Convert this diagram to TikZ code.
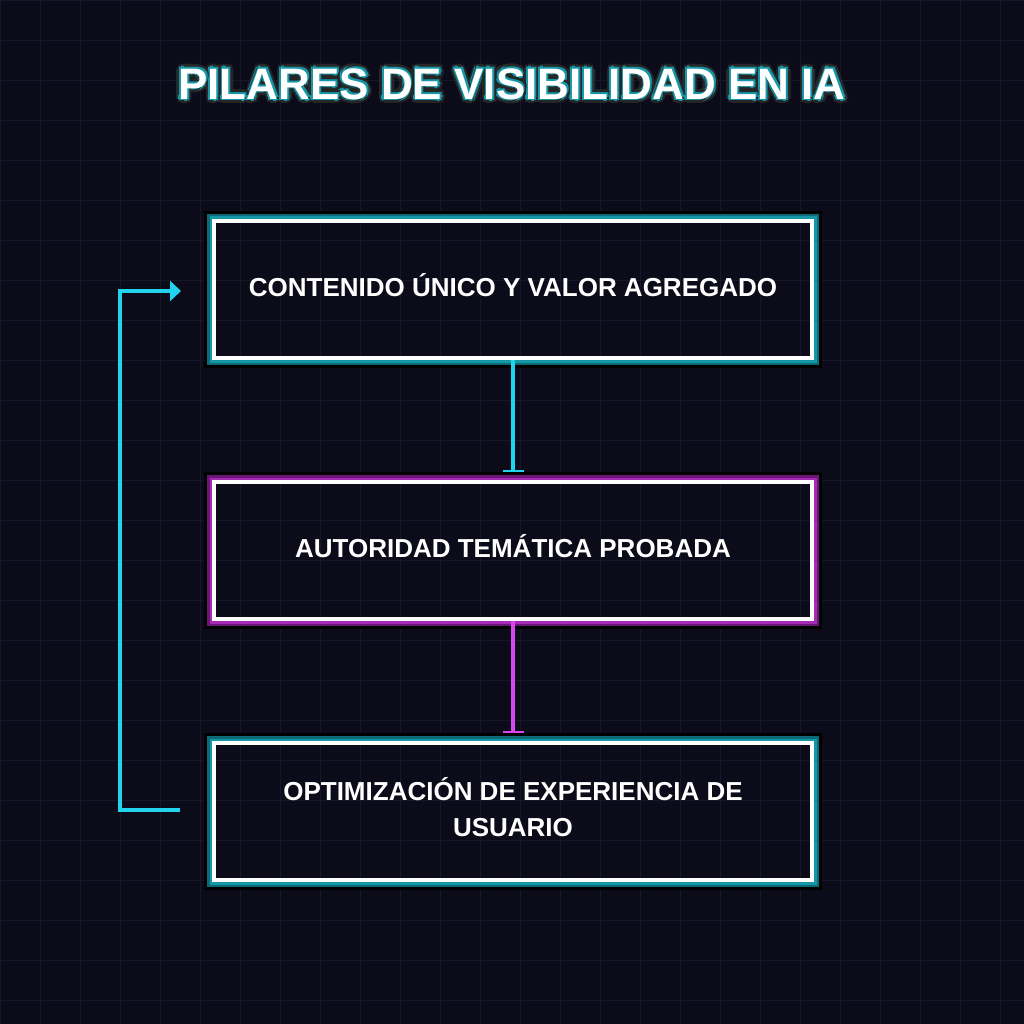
\documentclass[tikz,border=0pt]{standalone}
\usepackage{fontspec}
\setmainfont{Liberation Sans}
\usetikzlibrary{arrows.meta,positioning,calc}

\definecolor{bgdark}{HTML}{0B0B1A}
\definecolor{gridline}{HTML}{17172B}
\definecolor{neoncyan}{HTML}{22D3EE}
\definecolor{neonpink}{HTML}{D946EF}
\definecolor{tealdark}{HTML}{0B6A75}
\definecolor{tealmid}{HTML}{1597A8}
\definecolor{plumdark}{HTML}{6B1677}
\definecolor{plummid}{HTML}{A52BB5}

\newcommand{\pillartext}[1]{\raisebox{4.5pt}{\begin{tabular}{@{}c@{}}#1\end{tabular}}}

\begin{document}
\begin{tikzpicture}[
    x=1pt, y=-1pt,
    pillar/.style={draw=white, line width=4pt, minimum width=598pt, minimum height=137pt,
        text=white, font=\bfseries\fontsize{26}{36}\selectfont},
    title/.style={font=\bfseries\fontsize{44}{50}\selectfont, inner sep=0pt},
    link/.style={line width=3.5pt, -{Bar[width=21pt, line width=2pt]}, shorten >=8pt},
    back/.style={neoncyan, line width=3.5pt, -{Triangle[length=11pt, width=20pt]},
        shorten <=32pt, shorten >=31pt}
]
% canvas and grid
\useasboundingbox (0,0) rectangle (1024,1024);
\fill[bgdark] (0,0) rectangle (1024,1024);
\foreach \g in {0,40,...,1000} {
    \draw[gridline, line width=1pt] (\g+0.5,0) -- (\g+0.5,1024);
    \draw[gridline, line width=1pt] (0,\g+0.5) -- (1024,\g+0.5);
}

% title with outline
\coordinate (ttlpos) at (512,84);
\foreach \a in {0,45,...,315} {
    \node[title, text=black!85] (ttlo\a) at ($(ttlpos)+(\a:4.5)$) {PILARES DE VISIBILIDAD EN IA};
    \node[title, text=tealmid] (ttli\a) at ($(ttlpos)+(\a:2.5)$) {PILARES DE VISIBILIDAD EN IA};
}
\node[title, text=white] (ttl) at (ttlpos) {PILARES DE VISIBILIDAD EN IA};

% pillars
\node[pillar] (b1) at (513,289.5) {\pillartext{CONTENIDO ÚNICO Y VALOR AGREGADO}};
\node[pillar, below=120pt of b1] (b2) {\pillartext{AUTORIDAD TEMÁTICA PROBADA}};
\node[pillar, below=120pt of b2] (b3) {\pillartext{OPTIMIZACIÓN DE EXPERIENCIA DE\\USUARIO}};

% glow round each box
\foreach \b/\dk/\md in {b1/tealdark/tealmid, b2/plumdark/plummid, b3/tealdark/tealmid} {
    \draw[black, line width=8pt] ($(\b.south west)+(-4,4)$) rectangle ($(\b.north east)+(4,-4)$);
    \draw[\dk, line width=5pt] ($(\b.south west)+(-2.5,2.5)$) rectangle ($(\b.north east)+(2.5,-2.5)$);
    \draw[\md, line width=2.5pt] ($(\b.south west)+(-1.25,1.25)$) rectangle ($(\b.north east)+(1.25,-1.25)$);
}

% connectors
\draw[link, neoncyan] (b1) -- (b2);
\draw[link, neonpink] (b2) -- (b3);
\draw[back] ([yshift=1.5pt]b3.west) -- ++(-92,0) |- ([yshift=-1.5pt]b1.west);
\end{tikzpicture}
\end{document}
